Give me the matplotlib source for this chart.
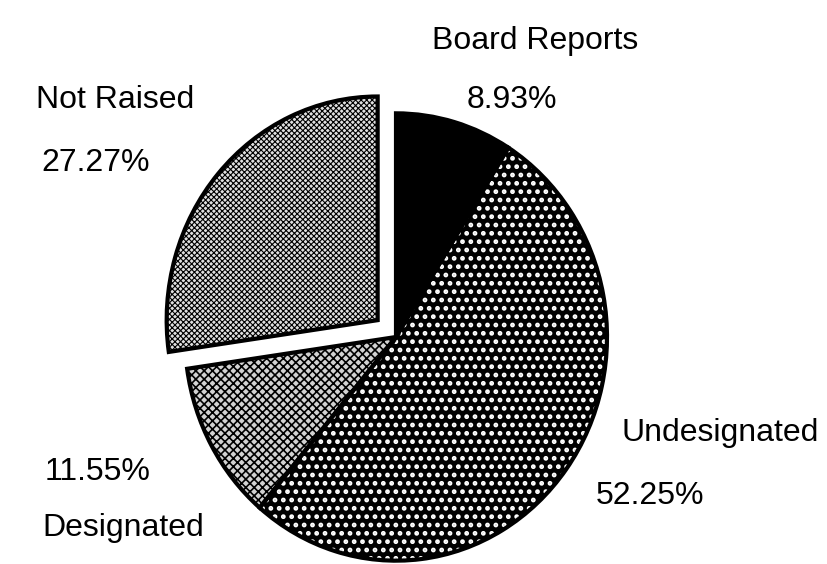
import matplotlib
matplotlib.use("Agg")
import matplotlib.pyplot as plt

labels = ["Board Reports", "Undesignated", "Designated", "Not Raised"]
shares = [8.93, 52.25, 11.55, 27.27]
explode_frac = [0, 0, 0, 0.115]
face_colors = ["black", "black", "#d2d2d2", "#e0e0e0"]
hatch_colors = ["black", "white", "black", "black"]
hatches = [None, "..", "xxxx", "xxxxxx"]
hatch_lw = [1.0, 2.2, 1.2, 0.8]

# label positions in pixels (left, baseline)
label_pos = {
    "Board Reports": [(432, 49, "Board Reports"), (467, 108, "8.93%")],
    "Not Raised": [(36, 108, "Not Raised"), (41, 171, "27.27%")],
    "Undesignated": [(622, 441, "Undesignated"), (596, 504, "52.25%")],
    "Designated": [(45, 480, "11.55%"), (42, 536, "Designated")],
}

plt.rcParams['font.family'] = ['Liberation Sans', 'DejaVu Sans']

W, H = 827, 564
SY = 1.06
fig = plt.figure(figsize=(W / 100, H / 100), dpi=100)
ax = fig.add_axes([0, 0, 1, 1])

center = (396, (H - 337) / SY)
radius = 211
explode = [e * radius for e in explode_frac]

wedges, _ = ax.pie(shares, explode=explode, startangle=90, counterclock=False,
                   center=center, radius=radius, frame=True,
                   wedgeprops=dict(linewidth=0))
for w, fc, hc, h, hl in zip(wedges, face_colors, hatch_colors, hatches, hatch_lw):
    w.set_facecolor(fc)
    w.set_edgecolor(hc)
    w.set_linewidth(0)
    if h:
        w.set_hatch(h)
        try:
            w.set_hatch_linewidth(hl)
        except Exception:
            pass

outline, _ = ax.pie(shares, explode=explode, startangle=90, counterclock=False,
                    center=center, radius=radius, frame=True,
                    wedgeprops=dict(fill=False, edgecolor="black", linewidth=3,
                                    joinstyle="miter"))
ax.set_aspect('auto')
ax.set_xlim(0, W)
ax.set_ylim(0, H / SY)
ax.axis('off')

for lab in labels:
    for (px, py, txt) in label_pos[lab]:
        fig.text(px / W, 1 - py / H, txt, fontsize=23, ha='left', va='baseline',
                 color='black')

fig.savefig("out.png", dpi=100, facecolor='white')
